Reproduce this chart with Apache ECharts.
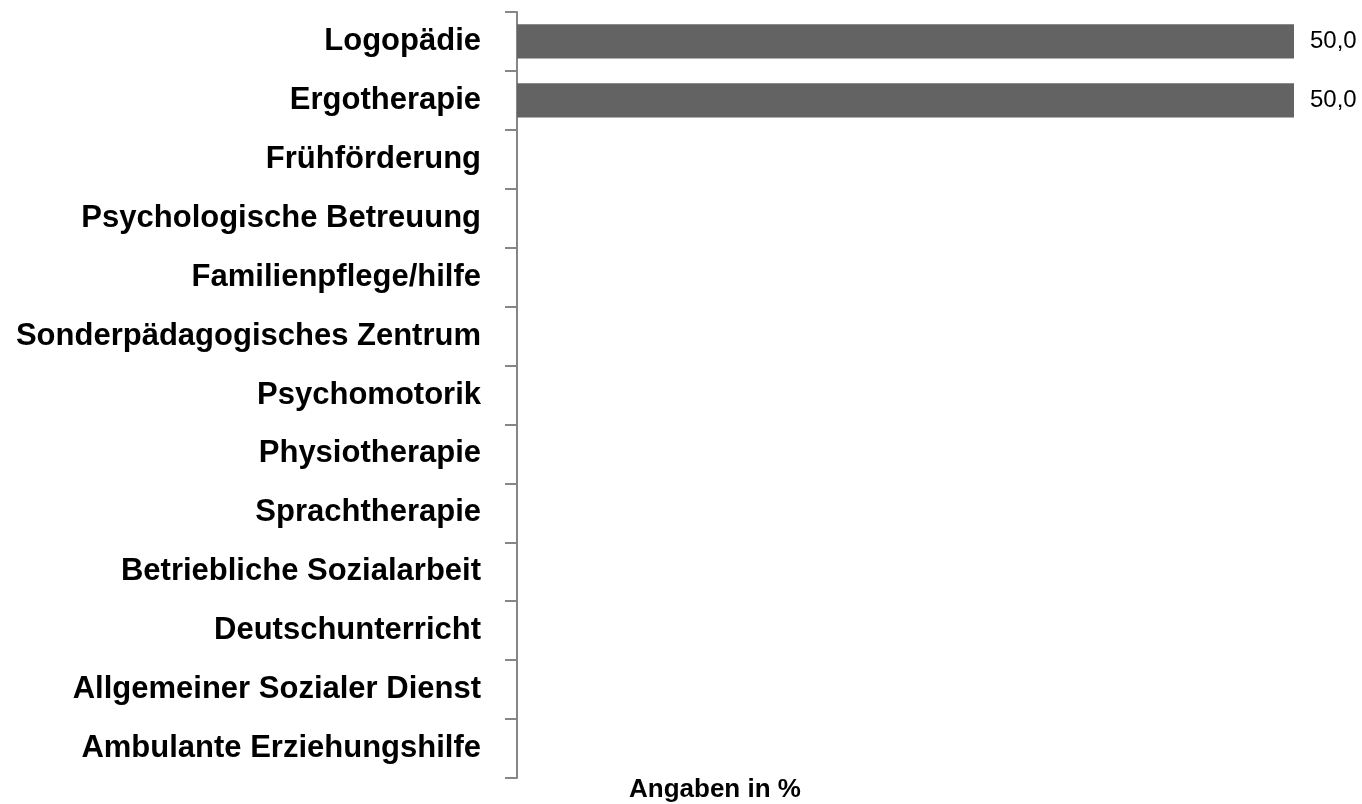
<!DOCTYPE html>
<html>
<head>
<meta charset="utf-8">
<script src="https://cdn.jsdelivr.net/npm/echarts@6/dist/echarts.min.js"></script>
<style>
  html, body { margin: 0; padding: 0; background: #fff; }
  #chart { width: 1362px; height: 804px; }
</style>
</head>
<body>
<div id="chart"></div>
<script>
const categories = [
    'Logopädie',
    'Ergotherapie',
    'Frühförderung',
    'Psychologische Betreuung',
    'Familienpflege/hilfe',
    'Sonderpädagogisches Zentrum',
    'Psychomotorik',
    'Physiotherapie',
    'Sprachtherapie',
    'Betriebliche Sozialarbeit',
    'Deutschunterricht',
    'Allgemeiner Sozialer Dienst',
    'Ambulante Erziehungshilfe'
];
const values = [50, 50, 0, 0, 0, 0, 0, 0, 0, 0, 0, 0, 0];

const labelFont = '"Liberation Sans", Arial, sans-serif';

const chart = echarts.init(document.getElementById('chart'));

chart.setOption({
    animation: false,
    title: {
        text: 'Angaben in %',
        left: 624,
        top: 772,
        textStyle: { fontFamily: labelFont, fontWeight: 'bold', fontSize: 26, color: '#000' }
    },
    grid: { left: 517, right: 68, top: 12, bottom: 26, outerBoundsMode: 'none', containLabel: false },
    xAxis: { type: 'value', min: 0, max: 50, show: false },
    yAxis: {
        type: 'category',
        data: categories,
        inverse: true,
        axisLine: { show: true, lineStyle: { color: '#868686', width: 2 } },
        axisTick: { show: true, length: 12, lineStyle: { color: '#868686', width: 2 } },
        axisLabel: {
            margin: 36,
            fontFamily: labelFont,
            fontWeight: 'bold',
            fontSize: 31,
            color: '#000'
        }
    },
    series: [{
        type: 'bar',
        data: values,
        barWidth: '58%',
        itemStyle: { color: '#636363' },
        label: {
            show: true,
            position: 'right',
            distance: 16,
            fontFamily: 'Liberation Sans',
            fontSize: 24,
            color: '#000',
            formatter: (p) => p.value > 0 ? p.value.toFixed(1).replace('.', ',') : ''
        }
    }]
});
</script>
</body>
</html>
